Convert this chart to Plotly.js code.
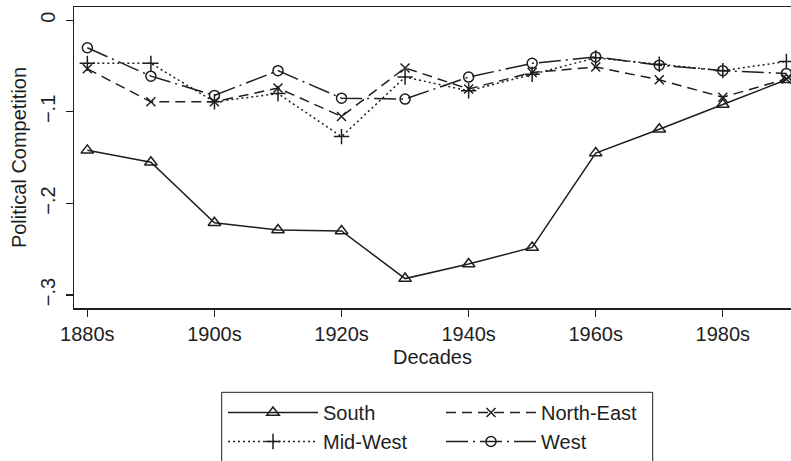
<!DOCTYPE html>
<html>
<head>
<meta charset="utf-8">
<script src="https://cdn.plot.ly/plotly-3.0.1.min.js"></script>
<style>html,body{margin:0;padding:0;background:#fff;}</style>
</head>
<body>
<div id="chart" style="width:791px;height:461px;"></div>
<script>
const decades = [1880, 1890, 1900, 1910, 1920, 1930, 1940, 1950, 1960, 1970, 1980, 1990];
const south     = [-0.142, -0.155, -0.221, -0.229, -0.230, -0.282, -0.266, -0.248, -0.145, -0.119, -0.092, -0.065];
const northEast = [-0.053, -0.089, -0.089, -0.074, -0.105, -0.052, -0.075, -0.057, -0.051, -0.065, -0.084, -0.064];
const midWest   = [-0.047, -0.047, -0.089, -0.080, -0.127, -0.062, -0.077, -0.059, -0.041, -0.048, -0.055, -0.045];
const west      = [-0.030, -0.061, -0.082, -0.055, -0.085, -0.086, -0.062, -0.047, -0.040, -0.049, -0.055, -0.058];
const seriesNames = ["South", "North-East", "Mid-West", "West"];
const xTickVals = [1880, 1900, 1920, 1940, 1960, 1980];
const xTickText = ["1880s", "1900s", "1920s", "1940s", "1960s", "1980s"];
const yTickVals = [0, -0.1, -0.2, -0.3];
const yTickText = ["0", "\u2212.1", "\u2212.2", "\u2212.3"];

const ink = "#1e1e1e";
const font = "Liberation Sans, Arial, Helvetica, sans-serif";

function tr(name, y, dash, symbol, size, legendId) {
  return {
    type: "scatter", mode: "lines+markers", name: name, x: decades, y: y,
    legend: legendId,
    line: {color: ink, width: 1.5, dash: dash},
    marker: {symbol: symbol, size: size, color: ink, line: {color: ink, width: 1.5}},
    cliponaxis: false
  };
}

const data = [
  tr(seriesNames[0], south, "solid", "triangle-up-open", 11, "legend"),
  tr(seriesNames[1], northEast, "10px,6px", "x-thin-open", 9, "legend2"),
  tr(seriesNames[2], midWest, "2px,3px", "cross-thin-open", 11, "legend"),
  tr(seriesNames[3], west, "22px,5px,2px,5px", "circle-open", 10, "legend2")
];

const W = 791, H = 461, ML = 74, MT = 7, MB = 153;
const PW = W - ML, PH = H - MT - MB;
const px2x = p => (p - ML) / PW;
const py2y = p => (H - MB - p) / PH;

const legendCommon = {
  orientation: "v",
  xanchor: "left", yanchor: "top", y: py2y(393.5),
  itemwidth: 90, borderwidth: 0, bgcolor: "rgba(0,0,0,0)",
  font: {size: 20, color: ink}, traceorder: "normal"
};

const layout = {
  width: W, height: H,
  margin: {l: ML, r: 0, t: MT, b: MB, pad: 0},
  paper_bgcolor: "#fff", plot_bgcolor: "#fff",
  font: {family: font, size: 20, color: ink},
  showlegend: true,
  xaxis: {
    range: [1877.9, 1990.73], tickvals: xTickVals, ticktext: xTickText,
    ticks: "outside", ticklen: 7, tickwidth: 1.2, tickcolor: ink,
    showline: true, linecolor: ink, linewidth: 1.5, mirror: true,
    showgrid: false, zeroline: false,
    tickfont: {size: 20, color: ink},
    title: {text: "Decades", font: {size: 20, color: ink}, standoff: 6}
  },
  yaxis: {
    range: [-0.3141, 0.0145], tickvals: yTickVals, ticktext: yTickText,
    tickangle: -90,
    ticks: "outside", ticklen: 7, tickwidth: 1.2, tickcolor: ink,
    showline: true, linecolor: ink, linewidth: 1.5, mirror: false,
    showgrid: false, zeroline: false,
    tickfont: {size: 20, color: ink},
    ticklabelstandoff: 3,
    title: {text: "Political Competition", font: {size: 20, color: ink}, standoff: 4}
  },
  legend: Object.assign({}, legendCommon, {x: px2x(223)}),
  legend2: Object.assign({}, legendCommon, {x: px2x(441)}),
  shapes: [{
    type: "rect", xref: "paper", yref: "paper",
    x0: px2x(221.7), x1: px2x(652.7), y0: py2y(392.3), y1: py2y(462),
    line: {color: ink, width: 1}, fillcolor: "rgba(0,0,0,0)", layer: "below"
  }]
};

Plotly.newPlot("chart", data, layout, {staticPlot: true, displayModeBar: false});
</script>
</body>
</html>
